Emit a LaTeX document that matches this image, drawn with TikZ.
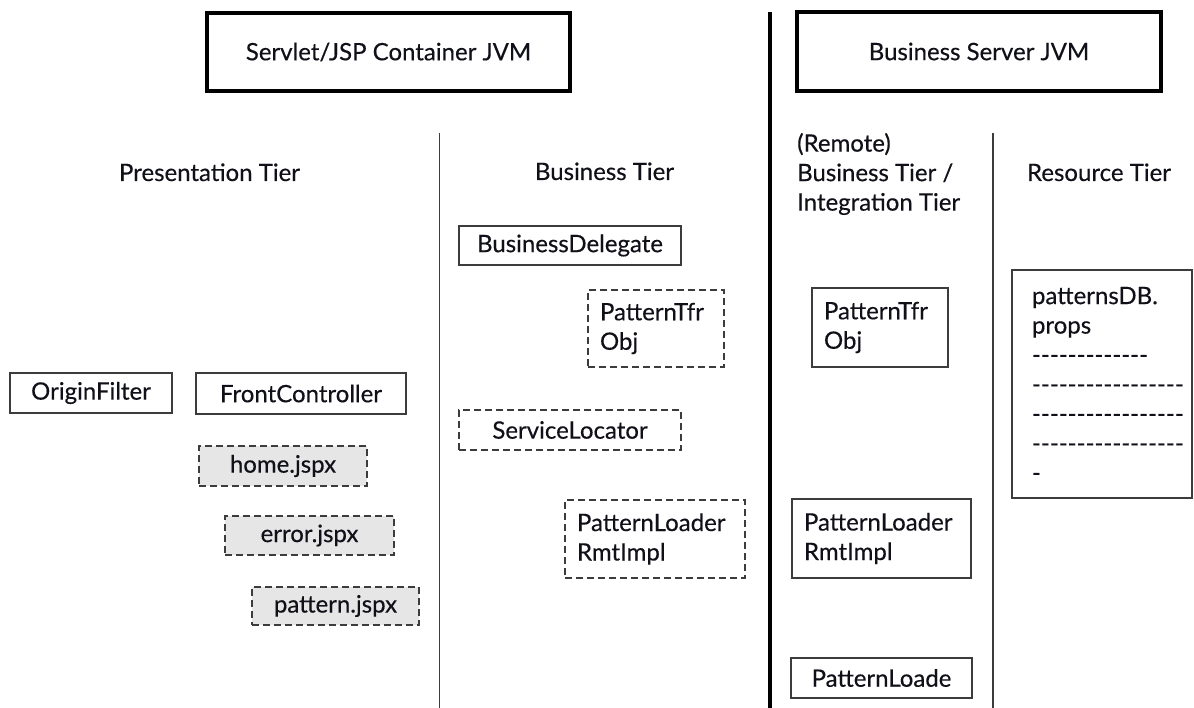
\documentclass[tikz,border=0pt]{standalone}
\usepackage{fontspec}
\newfontfamily\labelfont{Lato}[Ligatures=TeXOff, FakeBold=0.35]
\definecolor{ink}{HTML}{101018}
\definecolor{rule}{HTML}{3C3C3C}
\definecolor{sheet}{HTML}{E6E6E6}
\tikzset{
  txt/.style={text=ink, inner sep=0pt, font=\labelfont\fontsize{24}{29.5}\selectfont},
  sz/.style 2 args={minimum width=#1pt, minimum height=#2pt},
  jvmbox/.style={txt, draw=black, line width=4pt},
  plainbox/.style={txt, draw=rule, line width=1.4pt},
  dashbox/.style={plainbox, dash pattern=on 7pt off 4pt},
  pagebox/.style={dashbox, fill=sheet},
  twoline/.style={align=left, inner xsep=12pt, text width=#1pt},
  divider/.style={draw=rule, line width=1.5pt},
}
\begin{document}
\begin{tikzpicture}[x=1pt,y=-1pt]
\useasboundingbox (0,0) rectangle (1194,708);

% JVM headers
\node[jvmbox, sz={363}{78}] (web) at (388.5,52) {Servlet/JSP Container JVM};
\node[jvmbox, sz={364}{79}] (biz) at (979,51.5) {Business Server JVM};

% separators
\coordinate (jvmtop) at (770,12);
\coordinate (jvmbot) at (770,708);
\draw[black, line width=4pt] (jvmtop) -- (jvmbot);
\coordinate (lt) at (439.5,133);
\coordinate (lb) at (439.5,708);
\draw[divider] (lt) -- (lb);
\coordinate (rt) at (993,133);
\coordinate (rb) at (993,708);
\draw[divider] (rt) -- (rb);

% tier headings
\node[txt, anchor=base] (pres) at (209.5,181) {Presentation Tier};
\node[txt, anchor=base] (bus) at (604.5,180) {Business Tier};
\node[txt, anchor=west, align=left] (rbus) at (797,174) {(Remote)\\Business Tier /\\Integration Tier};
\node[txt, anchor=base] (res) at (1099,181) {Resource Tier};

% presentation tier
\node[plainbox, sz={162}{40}] (origin) at (91,393) {OriginFilter};
\node[plainbox, sz={210}{41}] (front) at (301,393.5) {FrontController};
\node[pagebox, sz={168}{40}] (home) at (283,466) {home.jspx};
\node[pagebox, sz={169}{39}] (err) at (309.5,535.5) {error.jspx};
\node[pagebox, sz={167}{38}] (pat) at (335.5,606) {pattern.jspx};

% business tier
\node[plainbox, sz={222}{39}] (delegate) at (570,245.5) {BusinessDelegate};
\node[dashbox, sz={136}{77}, twoline=112] (tfr) at (656,328.5) {PatternTfr\\Obj};
\node[dashbox, sz={222}{40}] (locator) at (570,430) {ServiceLocator};
\node[dashbox, sz={180}{78}, twoline=156] (rmt) at (655,539) {PatternLoader\\RmtImpl};

% remote business / integration tier
\node[plainbox, sz={136}{79}, twoline=112] (rtfr) at (880,327.5) {PatternTfr\\Obj};
\node[plainbox, sz={179}{79}, twoline=155] (rrmt) at (881.5,538.5) {PatternLoader\\RmtImpl};
\node[plainbox, sz={181}{40}] (loader) at (881.5,678) {PatternLoade};

% resource tier
\node[plainbox, sz={180}{228}, align=left, inner xsep=20pt, text width=140pt] (db) at (1102,384)
  {patternsDB.\\props\\\mbox{-------------}\\\mbox{-----------------}\\\mbox{-----------------}\\\mbox{-----------------}\\-};
\end{tikzpicture}
\end{document}
